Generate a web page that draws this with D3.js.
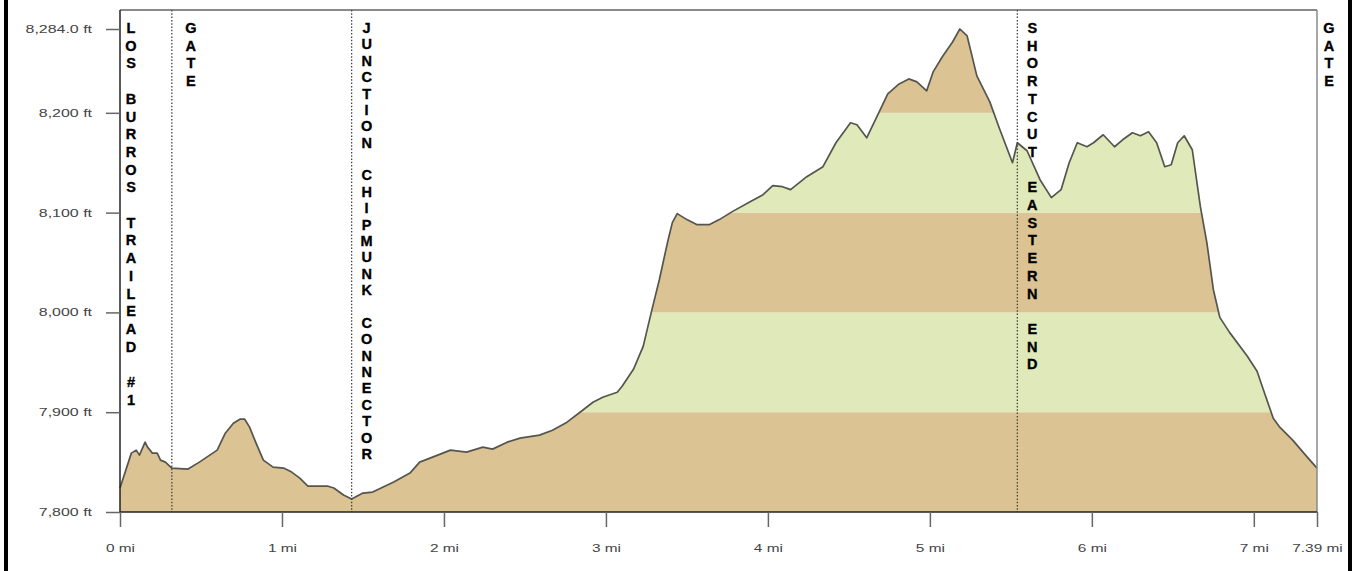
<!DOCTYPE html>
<html>
<head>
<meta charset="utf-8">
<script src="https://cdn.jsdelivr.net/npm/d3@7"></script>
<style>
  html, body { margin: 0; padding: 0; background: #fff; }
  svg { display: block; }
</style>
</head>
<body>
<svg id="chart" width="1355" height="571"></svg>
<script>
// ---- data ----
const distanceMi = [0.00,0.07,0.10,0.12,0.155,0.17,0.20,0.23,0.25,0.28,0.30,0.32,0.42,0.49,0.60,0.65,0.70,0.74,0.77,0.80,0.84,0.885,0.945,1.01,1.06,1.11,1.16,1.28,1.32,1.38,1.43,1.50,1.56,1.69,1.79,1.85,1.93,2.04,2.14,2.24,2.30,2.39,2.47,2.59,2.67,2.76,2.84,2.92,2.98,3.07,3.10,3.17,3.23,3.28,3.33,3.38,3.41,3.44,3.50,3.56,3.64,3.70,3.78,3.89,3.97,4.03,4.09,4.14,4.24,4.34,4.42,4.51,4.55,4.61,4.69,4.74,4.81,4.87,4.92,4.98,5.02,5.08,5.14,5.185,5.23,5.29,5.37,5.43,5.51,5.54,5.60,5.68,5.75,5.81,5.86,5.91,5.97,6.01,6.07,6.14,6.19,6.25,6.30,6.35,6.40,6.45,6.49,6.53,6.57,6.62,6.67,6.71,6.75,6.79,6.85,6.96,7.02,7.06,7.12,7.16,7.24,7.33,7.39];
const elevationFt = [7824,7859,7862,7857,7870,7865,7859,7859,7852,7850,7847,7844,7843,7850,7862,7879,7889,7893,7893,7885,7869,7852,7845,7844,7840,7834,7826,7826,7824,7817,7813,7819,7820,7830,7839,7850,7855,7862,7860,7865,7863,7870,7874,7877,7882,7890,7900,7910,7915,7920,7926,7943,7966,8000,8033,8070,8090,8099,8093,8088,8088,8093,8101,8111,8118,8127,8126,8123,8136,8146,8170,8190,8188,8175,8202,8219,8229,8234,8231,8222,8241,8257,8271,8284,8277,8237,8211,8184,8150,8170,8162,8133,8115,8123,8150,8170,8166,8170,8178,8166,8173,8180,8177,8181,8170,8146,8148,8170,8177,8163,8106,8070,8023,7995,7980,7956,7941,7922,7894,7885,7872,7855,7844];

const markerNames = ["LOS BURROS TRAILEAD #1", "GATE", "JUNCTION CHIPMUNK CONNECTOR", "SHORTCUT EASTERN END", "GATE"];
const markerMi = [0, 0.32, 1.43, 5.54, 7.39];

const yTickValues = [7800, 7900, 8000, 8100, 8200, 8284];
const yTickLabels = ["7,800 ft", "7,900 ft", "8,000 ft", "8,100 ft", "8,200 ft", "8,284.0 ft"];
const xTickValues = [0, 1, 2, 3, 4, 5, 6, 7, 7.39];
const xTickLabels = ["0 mi", "1 mi", "2 mi", "3 mi", "4 mi", "5 mi", "6 mi", "7 mi", "7.39 mi"];

const bandEdges = [7800, 7900, 8000, 8100, 8200, 8300];

// ---- layout ----
const plotLeft = 120, plotRight = 1317, plotBottom = 512, frameTop = 10;
const x = d3.scaleLinear().domain([0, 7.39]).range([plotLeft, plotRight]);
const y = d3.scaleLinear().domain([7800, 8284]).range([plotBottom, 29]);

const svg = d3.select("#chart");
svg.append("rect").attr("width", 1355).attr("height", 571).attr("fill", "#fff");

const pts = distanceMi.map((d, i) => ({ d, e: elevationFt[i] }));

const area = d3.area().x(p => x(p.d)).y0(plotBottom).y1(p => y(p.e));
const line = d3.line().x(p => x(p.d)).y(p => y(p.e));

svg.append("clipPath").attr("id", "profileClip")
  .append("path").attr("d", area(pts));

const bandColors = ["#dbc393", "#dfe9b9"];
const bands = d3.range(bandEdges.length - 1).map(i => ({ lo: bandEdges[i], hi: bandEdges[i + 1], i }));
svg.append("g").attr("clip-path", "url(#profileClip)")
  .selectAll("rect").data(bands).join("rect")
  .attr("x", plotLeft).attr("width", plotRight - plotLeft)
  .attr("y", b => Math.max(frameTop, y(b.hi)))
  .attr("height", b => y(b.lo) - Math.max(frameTop, y(b.hi)))
  .attr("fill", b => bandColors[b.i % 2]);

svg.append("path").attr("d", line(pts))
  .attr("fill", "none").attr("stroke", "#55554f").attr("stroke-width", 1.7)
  .attr("stroke-linejoin", "round");

// frame
svg.append("line").attr("x1", plotLeft).attr("x2", plotRight).attr("y1", frameTop).attr("y2", frameTop)
  .attr("stroke", "#8a8a8a").attr("stroke-width", 2);
svg.append("line").attr("x1", plotRight).attr("x2", plotRight).attr("y1", frameTop).attr("y2", plotBottom)
  .attr("stroke", "#8a8a8a").attr("stroke-width", 1.5);

// marker lines
const markerDx = [11, 19, 15, 15, 12];
markerMi.forEach((m, i) => {
  if (i > 0 && i < markerMi.length - 1) {
    svg.append("line").attr("x1", x(m)).attr("x2", x(m)).attr("y1", frameTop).attr("y2", plotBottom)
      .attr("stroke", "#444").attr("stroke-width", 1.3).attr("stroke-dasharray", "1.5,1.8");
  }
  const chars = Array.from(markerNames[i]);
  const pitch = Math.min(17.7, 426 / (chars.length - 1));
  const g = svg.append("g");
  chars.forEach((c, k) => {
    if (c === " ") return;
    g.append("text").attr("x", x(m) + markerDx[i]).attr("y", 28 + k * pitch)
      .attr("text-anchor", "middle").attr("dominant-baseline", "central")
      .attr("font-family", "Liberation Sans, Arial, sans-serif")
      .attr("font-weight", "bold").attr("font-size", 14.5).attr("fill", "#000")
      .attr("stroke", "#000").attr("stroke-width", 0.35)
      .text(c);
  });
});

// y axis
const yAxis = d3.axisLeft(y).tickValues(yTickValues).tickSize(14)
  .tickFormat((d, i) => yTickLabels[i]);
const gy = svg.append("g").attr("transform", `translate(${plotLeft},0)`).call(yAxis);
gy.select(".domain").attr("stroke", "#222").attr("stroke-width", 1.5).attr("d", `M0,${frameTop}V${plotBottom}`);
gy.selectAll(".tick line").attr("stroke", "#666").attr("stroke-width", 1.5);
gy.selectAll(".tick text").attr("font-family", "Liberation Sans, Arial, sans-serif")
  .attr("font-size", 11).attr("fill", "#444")
  .attr("x", 0).attr("dy", "0.32em")
  .attr("transform", "translate(-28,0) scale(1.45,1)");

// x axis
const xAxis = d3.axisBottom(x).tickValues(xTickValues).tickSize(15)
  .tickFormat((d, i) => xTickLabels[i]);
const gx = svg.append("g").attr("transform", `translate(0,${plotBottom})`).call(xAxis);
gx.select(".domain").attr("stroke", "#222").attr("stroke-width", 1.5).attr("d", `M${plotLeft},0H${plotRight}`);
gx.selectAll(".tick line").attr("stroke", "#666").attr("stroke-width", 1.5);
gx.selectAll(".tick text").attr("font-family", "Liberation Sans, Arial, sans-serif")
  .attr("font-size", 11).attr("fill", "#444")
  .attr("y", 0).attr("dy", "0.32em")
  .attr("transform", "translate(0,36) scale(1.4,1)");

// outer black side bars
svg.append("rect").attr("x", 4).attr("y", 0).attr("width", 4).attr("height", 571).attr("fill", "#000");
svg.append("rect").attr("x", 1348).attr("y", 0).attr("width", 4).attr("height", 571).attr("fill", "#000");
</script>
</body>
</html>
